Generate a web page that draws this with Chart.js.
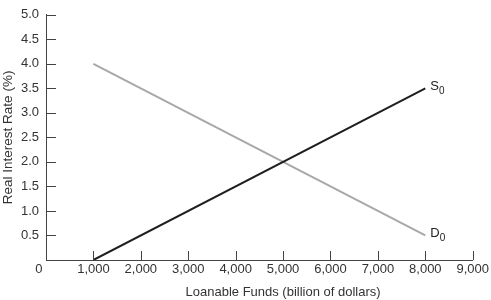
<!DOCTYPE html>
<html>
<head>
<meta charset="utf-8">
<script src="https://cdn.jsdelivr.net/npm/chart.js@4.4.1/dist/chart.umd.min.js"></script>
<style>
  html, body { margin: 0; padding: 0; background: #fff; }
  #wrap { width: 491px; height: 300px; position: relative; }
</style>
</head>
<body>
<div id="wrap"><canvas id="grafico"></canvas></div>
<script>
// valores
const cantidades = [1000, 8000];
const ofertaTasa = [0, 3.5];
const demandaTasa = [4.0, 0.5];
const etiquetasCurvas = ['S', 'D'];
const ticksX = [0, 1000, 2000, 3000, 4000, 5000, 6000, 7000, 8000, 9000];
const ticksY = [0, 0.5, 1.0, 1.5, 2.0, 2.5, 3.0, 3.5, 4.0, 4.5, 5.0];
const tituloX = 'Loanable Funds (billion of dollars)';
const tituloY = 'Real Interest Rate (%)';

const fuente = "'Liberation Sans', Arial, sans-serif";
const colorTexto = '#333';

// marcas de eje hacia adentro, etiquetas S0 / D0 y titulo del eje x
const marcasPlugin = {
    id: 'marcas',
    afterDatasetsDraw(chart) {
        const ctx = chart.ctx;
        const x = chart.scales.x, y = chart.scales.y;
        ctx.save();
        ctx.strokeStyle = '#444';
        ctx.lineWidth = 1;
        ticksX.forEach(v => {
            if (v === 0) return;
            const px = Math.round(x.getPixelForValue(v)) + 0.5;
            ctx.beginPath();
            ctx.moveTo(px, y.bottom);
            ctx.lineTo(px, y.bottom - 9);
            ctx.stroke();
        });
        ticksY.forEach(v => {
            if (v === 0) return;
            const py = Math.round(y.getPixelForValue(v)) + 0.5;
            ctx.beginPath();
            ctx.moveTo(x.left, py);
            ctx.lineTo(x.left + 10, py);
            ctx.stroke();
        });

        chart.data.datasets.forEach((ds, i) => {
            const ult = ds.data[ds.data.length - 1];
            const px = x.getPixelForValue(ult.x) + 5;
            const py = y.getPixelForValue(ult.y);
            ctx.fillStyle = '#222';
            ctx.textBaseline = 'middle';
            ctx.textAlign = 'left';
            ctx.font = '13px ' + fuente;
            const letra = etiquetasCurvas[i];
            ctx.fillText(letra, px, py - 2);
            const w = ctx.measureText(letra).width;
            ctx.font = '10px ' + fuente;
            ctx.fillText('0', px + w, py + 3);
        });

        ctx.fillStyle = colorTexto;
        ctx.font = '13px ' + fuente;
        ctx.textAlign = 'center';
        ctx.textBaseline = 'middle';
        ctx.fillText(tituloX, x.getPixelForValue(5000), x.bottom - 8);
        ctx.restore();
    }
};

const grafico = new Chart(document.getElementById('grafico'), {
    type: 'scatter',
    data: {
        datasets: [
            {
                label: 'S0',
                data: cantidades.map((c, i) => ({ x: c, y: ofertaTasa[i] })),
                showLine: true,
                borderColor: '#1e1e1e',
                borderWidth: 2,
                pointRadius: 0
            },
            {
                label: 'D0',
                data: cantidades.map((c, i) => ({ x: c, y: demandaTasa[i] })),
                showLine: true,
                borderColor: '#a8a8a8',
                borderWidth: 2,
                pointRadius: 0
            }
        ]
    },
    options: {
        responsive: true,
        maintainAspectRatio: false,
        animation: false,
        layout: { padding: { top: 7, right: 17, left: 0, bottom: 0 } },
        plugins: {
            legend: { display: false },
            tooltip: { enabled: false }
        },
        scales: {
            x: {
                type: 'linear',
                min: 0,
                max: 9000,
                afterBuildTicks: s => { s.ticks = ticksX.map(v => ({ value: v })); },
                afterFit: s => { s.height = 40; },
                grid: { display: false, drawTicks: false },
                border: { display: true, color: '#444', width: 1 },
                ticks: {
                    padding: 2,
                    color: colorTexto,
                    font: { family: fuente, size: 13 },
                    maxRotation: 0,
                    autoSkip: false,
                    callback: v => v === 0 ? '0    ' : v.toLocaleString('en-US')
                },
                title: { display: false }
            },
            y: {
                type: 'linear',
                min: 0,
                max: 5,
                afterBuildTicks: s => { s.ticks = ticksY.map(v => ({ value: v })); },
                afterFit: s => { s.width = 46; },
                grid: { display: false, drawTicks: false },
                border: { display: true, color: '#444', width: 1 },
                ticks: {
                    padding: 7,
                    color: colorTexto,
                    font: { family: fuente, size: 13 },
                    autoSkip: false,
                    callback: v => v === 0 ? '' : v.toFixed(1)
                },
                title: {
                    display: true,
                    text: tituloY,
                    color: colorTexto,
                    font: { family: fuente, size: 13.5 },
                    padding: { top: 0, bottom: 0 }
                }
            }
        }
    },
    plugins: [marcasPlugin]
});
</script>
</body>
</html>
